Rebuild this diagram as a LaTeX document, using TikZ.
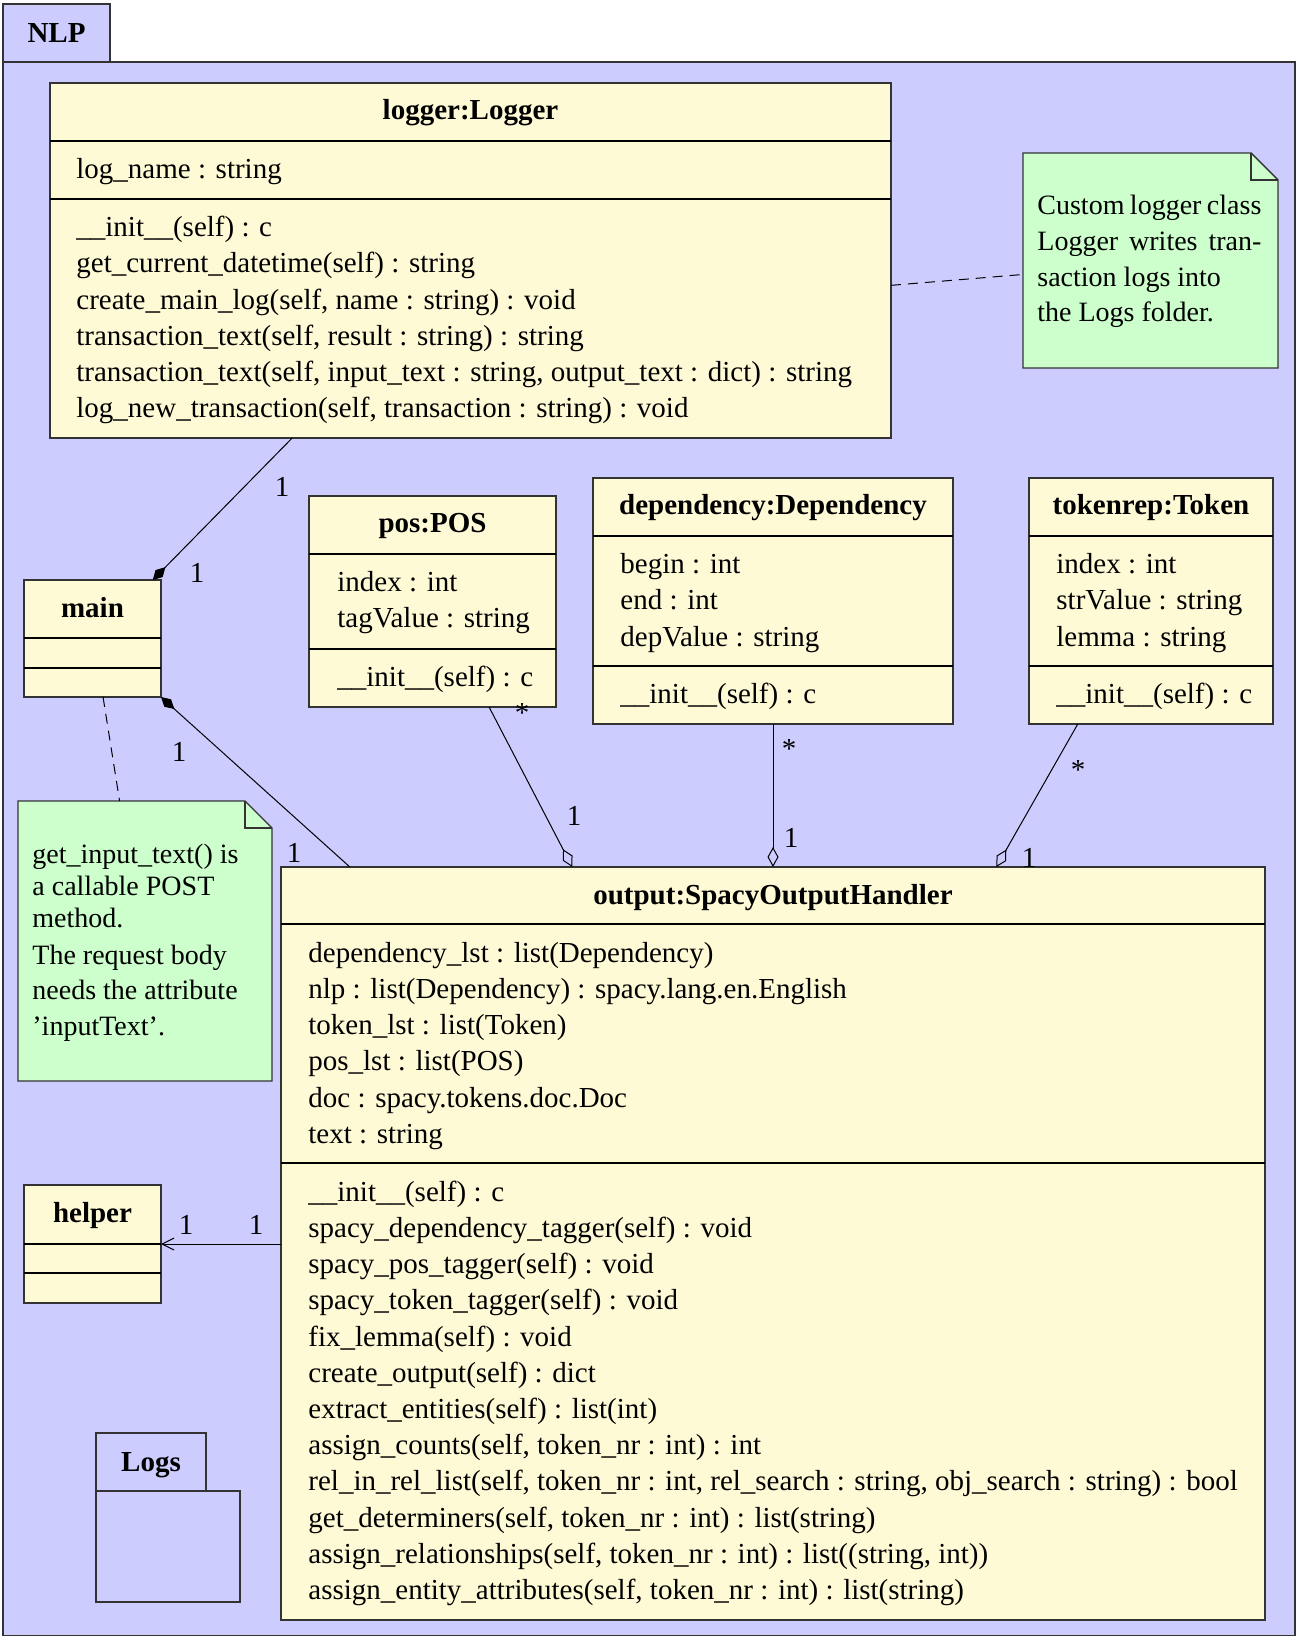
\documentclass[tikz,border=0pt]{standalone}
\usepackage{fontspec}
\setmainfont{Liberation Serif}
\usetikzlibrary{arrows.meta,calc}
\definecolor{pkgc}{HTML}{CCCCFF}
\definecolor{clsc}{HTML}{FFFAD6}
\definecolor{notec}{HTML}{CCFFCC}
\definecolor{linec}{HTML}{333333}
\begin{document}
\begin{tikzpicture}[x=0.5pt,y=-0.5pt,
  font=\fontsize{14.5pt}{18pt}\selectfont,
  box/.style={draw=linec, fill=clsc, line width=0.7pt, inner sep=0pt, outer sep=0pt, anchor=north west},
  pkg/.style={draw=linec, fill=pkgc, line width=0.7pt, inner sep=0pt, outer sep=0pt, anchor=north west},
  notebox/.style={inner sep=0pt, outer sep=0pt, anchor=north west},
  sepline/.style={draw=black, line width=0.6pt},
  txt/.style={anchor=west, inner sep=0pt, text height=0.7em, text depth=0.22em, yshift=-2.5pt},
  ttl/.style={inner sep=0pt, text height=0.7em, text depth=0.22em, yshift=-2.5pt, font=\fontsize{14.5pt}{18pt}\selectfont\bfseries},
  ntxt/.style={anchor=west, inner sep=0pt, text height=0.7em, text depth=0.22em, yshift=-2.5pt, font=\fontsize{14pt}{17pt}\selectfont},
  mult/.style={inner sep=0pt},
  conn/.style={draw=black, line width=0.5pt},
  comp/.style={conn, -{Diamond[length=9pt,width=5pt]}},
  agg/.style={conn, -{Diamond[open,length=10pt,width=5.5pt]}},
  nav/.style={conn, -{Straight Barb[length=6pt,width=6pt]}},
  notelink/.style={conn, dash pattern=on 5pt off 3.5pt},
  notefill/.style={draw=linec, fill=notec, line width=0.7pt},
]
\useasboundingbox (0,0) rectangle (1300,1636);
% package NLP
\node[pkg, minimum width=646pt, minimum height=787pt] (nlp) at (3,62) {};
\node[pkg, minimum width=53.5pt, minimum height=29pt] (nlptab) at (3,4) {};
\node[ttl] (nlpT) at (56.5,33) {NLP};

% logger
\node[box, minimum width=420.5pt, minimum height=177.5pt] (logger) at (50,83) {};
\draw[sepline] ($(logger.north west)+(0,58)$) -- ($(logger.north east)+(0,58)$);
\draw[sepline] ($(logger.north west)+(0,116)$) -- ($(logger.north east)+(0,116)$);
\node[ttl] (loggerT) at (470.5,110) {logger:Logger};
\node[txt] (loggerA) at (76,169) {log\_name : string};
\foreach \t [count=\i from 0] in {\_\_init\_\_(self) : c, get\_current\_datetime(self) : string, {create\_main\_log(self, name : string) : void}, {transaction\_text(self, result : string) : string}, {transaction\_text(self, input\_text : string, output\_text : dict) : string}, {log\_new\_transaction(self, transaction : string) : void}}
  \node[txt] (loggerO\i) at (76,227+36.2*\i) {\t};

% note 1
\node[notebox, minimum width=127.5pt, minimum height=107.5pt] (note1) at (1023,153) {};
\filldraw[notefill] (note1.north west) -- ($(note1.north east)+(-27,0)$) -- ($(note1.north east)+(0,27)$) -- (note1.south east) -- (note1.south west) -- cycle;
\draw[notefill, fill=none] ($(note1.north east)+(-27,0)$) -- ($(note1.north east)+(-27,27)$) -- ($(note1.north east)+(0,27)$);
\node[ntxt] (n1a) at (1037,204.5) {\makebox[112pt][s]{Custom logger class}};
\node[ntxt] (n1b) at (1037,241) {\makebox[112pt][s]{Logger writes tran-}};
\node[ntxt] (n1c) at (1037,276.5) {saction logs into};
\node[ntxt] (n1d) at (1037,312) {the Logs folder.};

% main
\node[box, minimum width=68.5pt, minimum height=58.5pt] (main) at (24,580) {};
\draw[sepline] ($(main.north west)+(0,58)$) -- ($(main.north east)+(0,58)$);
\draw[sepline] ($(main.north west)+(0,88)$) -- ($(main.north east)+(0,88)$);
\node[ttl] (mainT) at (92.5,608) {main};

% pos
\node[box, minimum width=123.5pt, minimum height=105.5pt] (pos) at (309,496) {};
\draw[sepline] ($(pos.north west)+(0,58)$) -- ($(pos.north east)+(0,58)$);
\draw[sepline] ($(pos.north west)+(0,153)$) -- ($(pos.north east)+(0,153)$);
\node[ttl] (posT) at (432.5,523) {pos:POS};
\node[txt] (posA0) at (337,581.5) {index : int};
\node[txt] (posA1) at (337,617.7) {tagValue : string};
\node[txt] (posO0) at (337,677) {\_\_init\_\_(self) : c};

% dependency
\node[box, minimum width=180pt, minimum height=123pt] (dep) at (593,478) {};
\draw[sepline] ($(dep.north west)+(0,58)$) -- ($(dep.north east)+(0,58)$);
\draw[sepline] ($(dep.north west)+(0,188)$) -- ($(dep.north east)+(0,188)$);
\node[ttl] (depT) at (773,505) {dependency:Dependency};
\node[txt] (depA0) at (620,563.4) {begin : int};
\node[txt] (depA1) at (620,600) {end : int};
\node[txt] (depA2) at (620,636.4) {depValue : string};
\node[txt] (depO0) at (620,693.8) {\_\_init\_\_(self) : c};

% token
\node[box, minimum width=122pt, minimum height=123pt] (tok) at (1029,478) {};
\draw[sepline] ($(tok.north west)+(0,58)$) -- ($(tok.north east)+(0,58)$);
\draw[sepline] ($(tok.north west)+(0,188)$) -- ($(tok.north east)+(0,188)$);
\node[ttl] (tokT) at (1151,505) {tokenrep:Token};
\node[txt] (tokA0) at (1056,563.4) {index : int};
\node[txt] (tokA1) at (1056,600) {strValue : string};
\node[txt] (tokA2) at (1056,636.4) {lemma : string};
\node[txt] (tokO0) at (1056,693.8) {\_\_init\_\_(self) : c};

% note 2
\node[notebox, minimum width=127pt, minimum height=140pt] (note2) at (18,801) {};
\filldraw[notefill] (note2.north west) -- ($(note2.north east)+(-27,0)$) -- ($(note2.north east)+(0,27)$) -- (note2.south east) -- (note2.south west) -- cycle;
\draw[notefill, fill=none] ($(note2.north east)+(-27,0)$) -- ($(note2.north east)+(-27,27)$) -- ($(note2.north east)+(0,27)$);
\node[ntxt] (n2a) at (32,853.4) {get\_input\_text() is};
\node[ntxt] (n2b) at (32,885.8) {a callable POST};
\node[ntxt] (n2c) at (32,918) {method.};
\node[ntxt] (n2d) at (32,954.6) {The request body};
\node[ntxt] (n2e) at (32,990) {needs the attribute};
\node[ntxt] (n2f) at (32,1025.6) {'inputText'.};

% output
\node[box, minimum width=492pt, minimum height=376.5pt] (out) at (281,867) {};
\draw[sepline] ($(out.north west)+(0,57)$) -- ($(out.north east)+(0,57)$);
\draw[sepline] ($(out.north west)+(0,296)$) -- ($(out.north east)+(0,296)$);
\node[ttl] (outT) at (773,895) {output:SpacyOutputHandler};
\foreach \t [count=\i from 0] in {dependency\_lst : list(Dependency), nlp : list(Dependency) : spacy.lang.en.English, token\_lst : list(Token), pos\_lst : list(POS), doc : spacy.tokens.doc.Doc, text : string}
  \node[txt] (outA\i) at (308,952.5+36.2*\i) {\t};
\foreach \t [count=\i from 0] in {\_\_init\_\_(self) : c, spacy\_dependency\_tagger(self) : void, spacy\_pos\_tagger(self) : void, spacy\_token\_tagger(self) : void, fix\_lemma(self) : void, create\_output(self) : dict, extract\_entities(self) : list(int), {assign\_counts(self, token\_nr : int) : int}, {rel\_in\_rel\_list(self, token\_nr : int, rel\_search : string, obj\_search : string) : bool}, {get\_determiners(self, token\_nr : int) : list(string)}, {assign\_relationships(self, token\_nr : int) : list((string, int))}, {assign\_entity\_attributes(self, token\_nr : int) : list(string)}}
  \node[txt] (outO\i) at (308,1191.4+36.2*\i) {\t};

% helper
\node[box, minimum width=68.5pt, minimum height=59pt] (helper) at (24,1185) {};
\draw[sepline] ($(helper.north west)+(0,59)$) -- ($(helper.north east)+(0,59)$);
\draw[sepline] ($(helper.north west)+(0,88)$) -- ($(helper.north east)+(0,88)$);
\node[ttl] (helperT) at (92.5,1213) {helper};

% Logs package
\node[pkg, minimum width=72pt, minimum height=55.5pt] (logs) at (96,1491) {};
\node[pkg, minimum width=55pt, minimum height=29pt] (logstab) at (96,1433) {};
\node[ttl] (logsT) at (151,1462) {Logs};

% connectors
\draw[comp] ($(logger.south west)!0.288!(logger.south east)$) -- ($(main.north west)!0.94!(main.north east)$);
\draw[comp] ($(out.north west)!0.07!(out.north east)$) -- (main.south east);
\draw[agg] ($(pos.south west)!0.729!(pos.south east)$) -- ($(out.north west)!0.296!(out.north east)$);
\draw[agg] (dep.south) -- (dep.south |- out.north);
\draw[agg] ($(tok.south west)!0.2!(tok.south east)$) -- ($(out.north west)!0.727!(out.north east)$);
\draw[nav] (out.west |- helper.east) -- (helper.east);
\draw[notelink] ($(logger.north east)!0.57!(logger.south east)$) -- ($(note1.north west)!0.565!(note1.south west)$);
\draw[notelink] ($(main.south west)!0.577!(main.south east)$) -- ($(note2.north west)!0.40!(note2.north east)$);

% multiplicities
\node[mult] (m1) at (282,487) {1};
\node[mult] (m2) at (197,573) {1};
\node[mult] (m3) at (179,752) {1};
\node[mult] (m4) at (294,853) {1};
\node[mult] (m5) at (522,713) {*};
\node[mult] (m6) at (574,816) {1};
\node[mult] (m7) at (789,749) {*};
\node[mult] (m8) at (791,838) {1};
\node[mult] (m9) at (1078,770) {*};
\node[mult] (m10) at (1029,858) {1};
\node[mult] (m11) at (186,1225) {1};
\node[mult] (m12) at (256,1225) {1};
\end{tikzpicture}
\end{document}
